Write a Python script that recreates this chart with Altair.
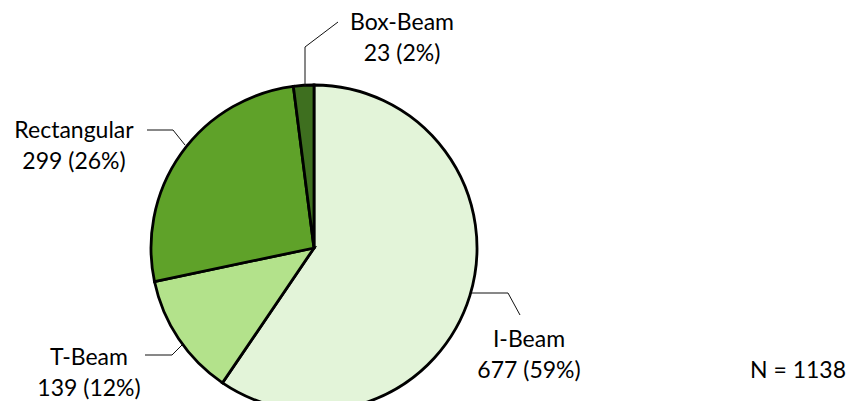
import altair as alt
import pandas as pd

# ---- data ----
categories = ["I-Beam", "T-Beam", "Rectangular", "Box-Beam"]
counts = [677, 139, 299, 23]
colors = ["#E3F4D9", "#B3E28B", "#5FA229", "#3E6F1F"]
total_label = "N = 1138"

total = sum(counts)
pie_df = pd.DataFrame({
    "cat": categories,
    "count": counts,
    "idx": list(range(len(categories))),
})

# ---- layout (annotation positions, chart pixel coords) ----
W, H = 841, 393
CX, CY, R = 306, 240, 163

label_pos = {  # center x, baseline y of first line
    "I-Beam": (521, 339),
    "T-Beam": (81, 357),
    "Rectangular": (66, 130),
    "Box-Beam": (394, 22),
}
line_gap = 31
leaders = {
    "I-Beam": [(464, 285), (500, 285), (512, 307)],
    "T-Beam": [(137, 347), (164, 347), (174, 337)],
    "Rectangular": [(139, 122), (165, 122), (177, 137)],
    "Box-Beam": [(297, 78), (297, 39), (330, 14)],
}

text_rows = []
for c, n in zip(categories, counts):
    x, y = label_pos[c]
    pct = round(100 * n / total)
    text_rows.append({"x": x, "y": y, "t": c})
    text_rows.append({"x": x, "y": y + line_gap, "t": f"{n} ({pct}%)"})
text_df = pd.DataFrame(text_rows)

leader_rows = []
for c, pts in leaders.items():
    for i, (x, y) in enumerate(pts):
        leader_rows.append({"cat": c, "i": i, "x": x, "y": y})
leader_df = pd.DataFrame(leader_rows)

n_df = pd.DataFrame({"x": [742], "y": [370], "t": [total_label]})

xs = alt.Scale(domain=[0, W], range=[0, W])
ys = alt.Scale(domain=[0, H], range=[0, H])

pie = alt.Chart(pie_df).mark_arc(
    outerRadius=R, stroke="black", strokeWidth=2.8
).encode(
    theta=alt.Theta("count:Q", stack=True),
    color=alt.Color("cat:N", scale=alt.Scale(domain=categories, range=colors), legend=None),
    order=alt.Order("idx:Q"),
    x=alt.value(CX),
    y=alt.value(CY),
)

lines = alt.Chart(leader_df).mark_line(color="#111111", strokeWidth=1).encode(
    x=alt.X("x:Q", scale=xs, axis=None),
    y=alt.Y("y:Q", scale=ys, axis=None),
    detail="cat:N",
    order="i:Q",
)

texts = alt.Chart(text_df).mark_text(
    font="Lato", fontSize=23, align="center", baseline="alphabetic", color="black"
).encode(
    x=alt.X("x:Q", scale=xs, axis=None),
    y=alt.Y("y:Q", scale=ys, axis=None),
    text="t:N",
)

ntext = alt.Chart(n_df).mark_text(
    font="Lato", fontSize=23, align="left", baseline="alphabetic", color="black"
).encode(
    x=alt.X("x:Q", scale=xs, axis=None),
    y=alt.Y("y:Q", scale=ys, axis=None),
    text="t:N",
)

chart = alt.layer(pie, lines, texts, ntext).properties(
    width=W, height=H,
    autosize=alt.AutoSizeParams(type="none"),
    padding=0,
    background="white",
).configure_view(stroke=None)

chart.save("out.html", embed_options={"renderer": "svg", "actions": False})
